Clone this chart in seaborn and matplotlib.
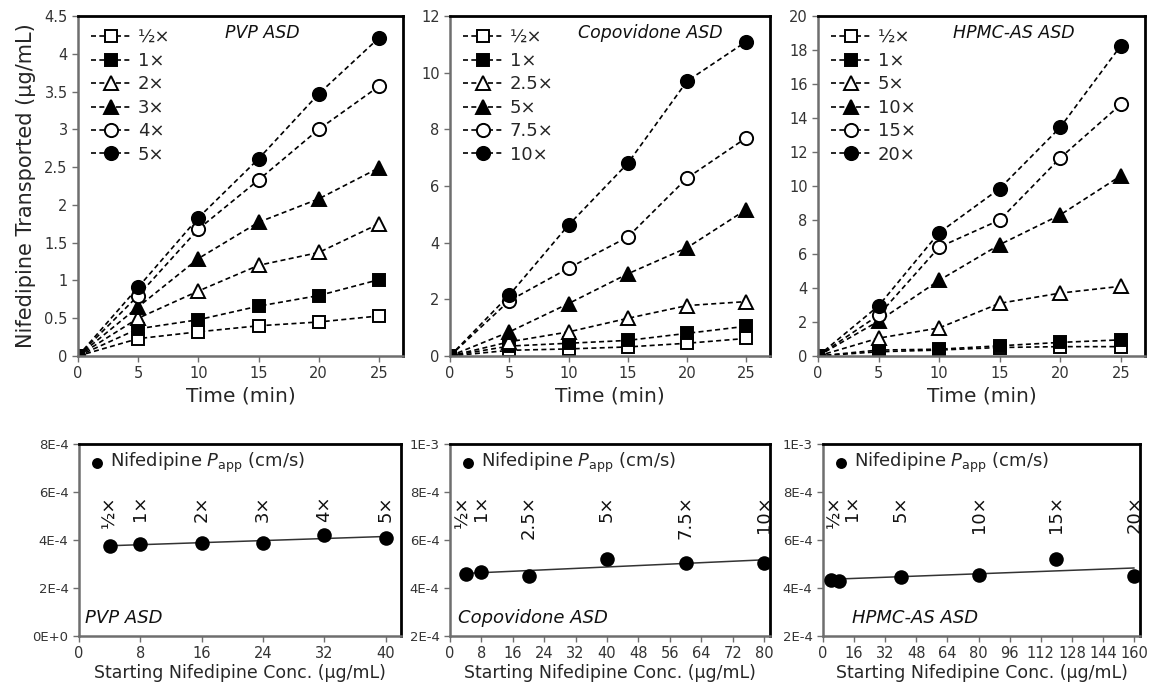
import numpy as np
import pandas as pd
import matplotlib
matplotlib.use("Agg")
import matplotlib.pyplot as plt
import matplotlib.transforms as mtransforms
from matplotlib.ticker import FuncFormatter
import seaborn as sns

sns.set_theme(style="white")
plt.rcParams['font.family'] = ['DejaVu Sans']
plt.rcParams['mathtext.fontset'] = 'dejavusans'

# ---- datos: transporte vs tiempo ----
time_min = [0, 5, 10, 15, 20, 25]

pvp_labels = ['½×', '1×', '2×', '3×', '4×', '5×']
pvp_values = [
    [0, 0.23, 0.32, 0.40, 0.45, 0.53],
    [0, 0.36, 0.48, 0.66, 0.80, 1.01],
    [0, 0.50, 0.86, 1.20, 1.37, 1.75],
    [0, 0.65, 1.29, 1.77, 2.08, 2.49],
    [0, 0.80, 1.68, 2.33, 3.00, 3.57],
    [0, 0.91, 1.83, 2.61, 3.47, 4.21],
]

copo_labels = ['½×', '1×', '2.5×', '5×', '7.5×', '10×']
copo_values = [
    [0, 0.20, 0.25, 0.32, 0.45, 0.62],
    [0, 0.35, 0.45, 0.55, 0.80, 1.05],
    [0, 0.50, 0.85, 1.33, 1.78, 1.92],
    [0, 0.85, 1.85, 2.90, 3.82, 5.17],
    [0, 1.95, 3.10, 4.20, 6.28, 7.70],
    [0, 2.15, 4.62, 6.80, 9.70, 11.10],
]

hpmc_labels = ['½×', '1×', '5×', '10×', '15×', '20×']
hpmc_values = [
    [0, 0.25, 0.35, 0.50, 0.55, 0.55],
    [0, 0.35, 0.40, 0.60, 0.80, 0.95],
    [0, 1.05, 1.65, 3.10, 3.70, 4.10],
    [0, 2.05, 4.45, 6.55, 8.30, 10.60],
    [0, 2.40, 6.40, 8.00, 11.65, 14.80],
    [0, 2.95, 7.25, 9.85, 13.45, 18.25],
]

# ---- datos: Papp vs concentración inicial ----
pvp_conc = [4, 8, 16, 24, 32, 40]
pvp_papp = [3.75e-4, 3.85e-4, 3.87e-4, 3.87e-4, 4.20e-4, 4.10e-4]

copo_conc = [4, 8, 20, 40, 60, 80]
copo_papp = [4.60e-4, 4.65e-4, 4.50e-4, 5.20e-4, 5.05e-4, 5.05e-4]

hpmc_conc = [4, 8, 40, 80, 120, 160]
hpmc_papp = [4.35e-4, 4.30e-4, 4.45e-4, 4.55e-4, 5.20e-4, 4.50e-4]

# estilos de marcador: (marker, relleno)
marker_styles = [('s', 'white'), ('s', 'black'), ('^', 'white'),
                 ('^', 'black'), ('o', 'white'), ('o', 'black')]
marker_sizes = {'s': 8.5, '^': 9.5, 'o': 9.5}

W, H = 1149, 688
fig = plt.figure(figsize=(W / 100, H / 100), dpi=100)


def box(l, t, r, b):
    return [l / W, 1 - b / H, (r - l) / W, (b - t) / H]


top_axes = [fig.add_axes(box(78, 16, 403, 356)),
            fig.add_axes(box(450, 16, 770, 356)),
            fig.add_axes(box(818, 16, 1145, 356))]
bot_axes = [fig.add_axes(box(79, 444, 401, 636)),
            fig.add_axes(box(450, 444, 770, 636)),
            fig.add_axes(box(823, 444, 1140, 636))]


def style_axes(ax, tick_fs):
    for side in ['top', 'right']:
        ax.spines[side].set_color('black')
        ax.spines[side].set_linewidth(2.0)
    for side in ['left', 'bottom']:
        ax.spines[side].set_color('#6e6e6e')
        ax.spines[side].set_linewidth(1.8)
    ax.tick_params(axis='both', direction='out', length=4, width=1,
                   color='#6e6e6e', labelsize=tick_fs, labelcolor='#333333',
                   left=True, bottom=True)
    ax.grid(False)


def sci_fmt(v, pos):
    if v == 0:
        return '0E+0'
    exp = int(np.floor(np.log10(abs(v)) + 1e-9))
    mant = v / 10 ** exp
    sign = '+' if exp >= 0 else '-'
    return f"{mant:.0f}E{sign}{abs(exp)}"


top_sets = [
    (pvp_labels, pvp_values, 'PVP ASD', 4.5, 0.5, 0.566),
    (copo_labels, copo_values, 'Copovidone ASD', 12, 2, 0.625),
    (hpmc_labels, hpmc_values, 'HPMC-AS ASD', 20, 2, 0.60),
]

for ax, (labels, values, title, ymax, ystep, tx) in zip(top_axes, top_sets):
    for lab, vals, (mk, fc) in zip(labels, values, marker_styles):
        df = pd.DataFrame({'t': time_min, 'v': vals})
        sns.lineplot(data=df, x='t', y='v', ax=ax, color='black',
                     linestyle='--', dashes=False, linewidth=1.2, marker=mk,
                     markersize=marker_sizes[mk], markerfacecolor=fc,
                     markeredgecolor='black', markeredgewidth=1.4, label=lab)
        ax.lines[-1].set_dashes((3, 2))
    style_axes(ax, 10.5)
    ax.set_xlim(0, 27)
    ax.set_ylim(0, ymax)
    ax.set_xticks(range(0, 26, 5))
    ax.set_yticks(np.arange(0, ymax + 1e-9, ystep))
    ax.yaxis.set_major_formatter(FuncFormatter(lambda v, p: f"{v:g}"))
    ax.set_xlabel('Time (min)', fontsize=14.5, labelpad=4)
    ax.set_ylabel('')
    ax.text(tx, 0.95, title, transform=ax.transAxes, ha='center', va='center',
            fontsize=12.5, style='italic', color='#111111')
    leg = ax.legend(loc='upper left', frameon=False, fontsize=13,
                    handlelength=2.3, handletextpad=0.3, labelspacing=0.3,
                    borderaxespad=0.5, borderpad=0.2)
    for h in leg.legend_handles:
        h.set_dashes((3, 2))

top_axes[0].set_ylabel('Nifedipine Transported (µg/mL)', fontsize=15,
                       labelpad=6)

bot_sets = [
    (pvp_conc, pvp_papp, pvp_labels, 'PVP ASD', (0, 8e-4), 42, 8, 0.02,
     [0, 0, 0, 0, 0, 0]),
    (copo_conc, copo_papp, copo_labels, 'Copovidone ASD', (2e-4, 1e-3), 81.5, 8,
     0.025, [-2, 0, 0, 0, 0, 0]),
    (hpmc_conc, hpmc_papp, hpmc_labels, 'HPMC-AS ASD', (2e-4, 1e-3), 163, 16,
     0.093, [3, 10, 0, 0, 0, 0]),
]

for ax, (conc, papp, labels, title, ylim, xmax, xstep, tx, dx) in zip(bot_axes, bot_sets):
    df = pd.DataFrame({'c': conc, 'p': papp})
    sns.regplot(data=df, x='c', y='p', ax=ax, scatter=False, ci=None,
                truncate=True, line_kws={'color': '#333333', 'linewidth': 1.1})
    sns.scatterplot(data=df, x='c', y='p', ax=ax, color='black', s=110,
                    edgecolor='black', linewidth=0, zorder=3,
                    label=r'Nifedipine $P_{\mathrm{app}}$ (cm/s)')
    style_axes(ax, 9.5)
    ax.set_xlim(0, xmax)
    ax.set_ylim(*ylim)
    ax.set_xticks(np.arange(0, xmax, xstep))
    ax.set_yticks(np.arange(ylim[0], ylim[1] + 1e-9, 2e-4))
    ax.yaxis.set_major_formatter(FuncFormatter(sci_fmt))
    ax.tick_params(axis='x', labelsize=10.5)
    ax.set_xlabel('Starting Nifedipine Conc. (µg/mL)', fontsize=12.5, labelpad=2)
    ax.set_ylabel('')
    trans = mtransforms.blended_transform_factory(ax.transData, ax.transAxes)
    for c, lab, off in zip(conc, labels, dx):
        ax.annotate(lab, xy=(c, 0.735), xycoords=trans, xytext=(off, 0),
                    textcoords='offset points', rotation=90, ha='center',
                    va='top', fontsize=13, color='#111111')
    ax.text(tx, 0.094, title, transform=ax.transAxes, ha='left', va='center',
            fontsize=13, style='italic', color='#111111')
    ax.legend(loc='upper left', frameon=False, fontsize=13, handletextpad=0.1,
              markerscale=0.75, borderaxespad=0.2, borderpad=0.2,
              handlelength=1.2)

fig.savefig('out.png', dpi=100)
